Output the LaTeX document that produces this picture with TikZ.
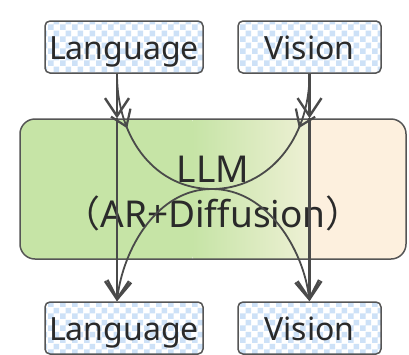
\documentclass[tikz,border=0pt]{standalone}
\usepackage{fontspec}
\setmainfont{Noto Sans}
\newfontfamily\cjkfont{Noto Sans CJK SC}
\usetikzlibrary{arrows.meta,decorations.markings,patterns}
\pgfdeclarepatternformonly{checker}{\pgfqpoint{0pt}{0pt}}{\pgfqpoint{12pt}{12pt}}{\pgfqpoint{12pt}{12pt}}{%
 \pgfpathrectangle{\pgfqpoint{0pt}{0pt}}{\pgfqpoint{6pt}{6pt}}%
 \pgfpathrectangle{\pgfqpoint{6pt}{6pt}}{\pgfqpoint{6pt}{6pt}}%
 \pgfusepath{fill}}
\definecolor{chk}{HTML}{CDE1F7}
\definecolor{edge}{HTML}{555555}
\definecolor{wire}{HTML}{4A4A4A}
\definecolor{txt}{HTML}{2A2A2A}
\definecolor{llmgreen}{HTML}{C6E4A6}
\definecolor{llmpale}{HTML}{EDF0D4}
\definecolor{llmbeige}{HTML}{FDF0DE}
\tikzset{
  midtip/.tip={Straight Barb[length=15pt,width=21pt,line width=2.2pt]},
  endtip/.tip={Straight Barb[length=18pt,width=24pt,line width=2.4pt]},
}
\begin{document}
\begin{tikzpicture}[x=1pt,y=-1pt,
  modbox/.style={draw=edge, line width=1.5pt, rounded corners=5pt,
    preaction={fill=white}, pattern=checker, pattern color=chk,
    minimum height=52pt, inner sep=0pt, text height=30pt, text depth=6pt,
    font=\fontsize{32}{38}\selectfont, text=txt},
  straightw/.style={draw=wire, line width=2.4pt},
  curvew/.style={draw=wire, line width=1.8pt},
  midarrow/.style={postaction={decorate}, decoration={markings,
    mark=at position #1 with {\arrow{midtip}}}},
]
\useasboundingbox (0,0) rectangle (409,354);

% LLM box (fill drawn in node-local coordinates, centre = (213,189))
\node[draw=edge, line width=1.5pt, rounded corners=15pt,
  minimum width=386pt, minimum height=140pt, inner sep=0pt,
  path picture={
    \fill[llmgreen] (-220,-80) rectangle (-20,80);
    \shade[left color=llmgreen, right color=llmpale] (-20.5,-80) rectangle (96,80);
    \fill[llmbeige] (96,-80) rectangle (220,80);
  }] (llm) at (213,189) {};
\node[anchor=base, align=center, text=txt,
  font=\fontsize{37}{45}\selectfont] (llmtext) at (213,227)
  {LLM\\{\cjkfont （}AR+Diffusion{\cjkfont ）}};

% modality boxes
\node[modbox, minimum width=158pt] (lt) at (124,47) {Language};
\node[modbox, minimum width=143pt] (vt) at (309.5,47) {Vision};
\node[modbox, minimum width=158pt] (lb) at (124,328) {Language};
\node[modbox, minimum width=143pt] (vb) at (309.5,328) {Vision};

\coordinate (mid) at (212,189);

% straight connectors
\draw[straightw, -{endtip}] ([xshift=-7pt]lt.south) -- ([xshift=-7pt]lt.south |- llm.north);
\draw[straightw, -{endtip}] ([xshift=-7pt]lt.south |- llm.north) -- ([xshift=-7pt]lb.north);
\draw[straightw, -{endtip}] (vt.south) -- (vt.south |- llm.north);
\draw[straightw, -{endtip}] (vt.south |- llm.north) -- (vb.north);

% crossing curves
\draw[curvew, midarrow=0.17, -{endtip}] ([xshift=-7pt]lt.south)
  .. controls +(0,67) and +(-55,0) .. (mid)
  .. controls +(55,0) and +(-6,-52) .. (vb.north);
\draw[curvew, midarrow=0.17, -{endtip}] (vt.south)
  .. controls +(0,67) and +(55,0) .. (mid)
  .. controls +(-55,0) and +(6,-52) .. ([xshift=-7pt]lb.north);
\end{tikzpicture}
\end{document}
